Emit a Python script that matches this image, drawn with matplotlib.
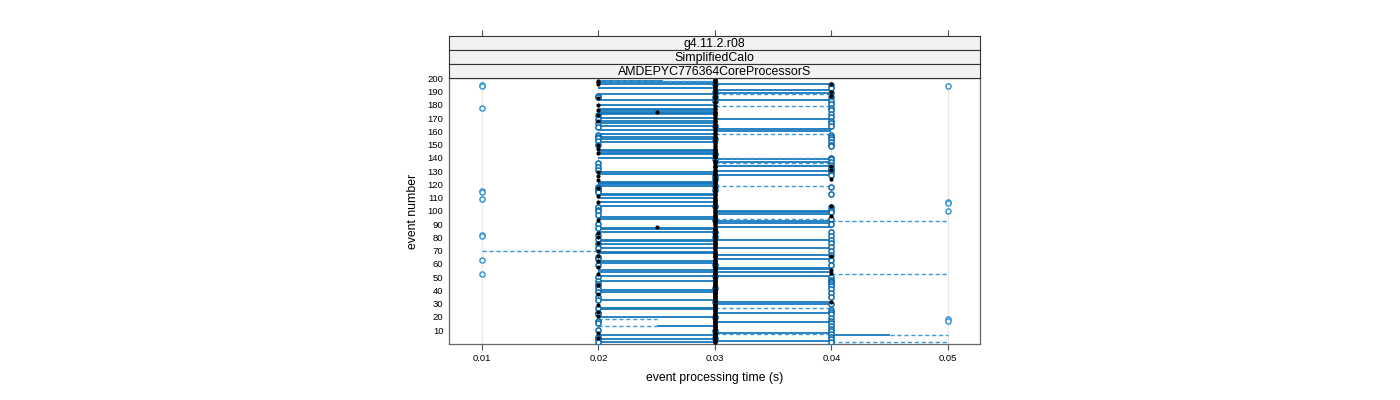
import matplotlib
matplotlib.use("Agg")
import matplotlib.pyplot as plt

plt.rcParams['font.family'] = ['Liberation Sans', 'DejaVu Sans']

# ---- data ----
strip_labels = ["g4.11.2.r08", "SimplifiedCalo", "AMDEPYC776364CoreProcessorS"]
x_ticks = [0.01, 0.02, 0.03, 0.04, 0.05]
x_ticklabels = ["0.01", "0.02", "0.03", "0.04", "0.05"]
y_ticks = [10, 20, 30, 40, 50, 60, 70, 80, 90, 100, 110, 120, 130, 140, 150, 160, 170, 180, 190, 200]

# solid segments 0.02 -> 0.03 (event numbers)
lo_solid_events = [197, 196, 193, 188, 184, 180, 177, 176, 175, 174, 173, 170, 168, 166, 164, 161,
                   158, 156, 154, 152, 146, 145, 144, 143, 140, 129, 128, 122, 121, 120, 119,
                   113, 112, 110, 107, 104, 95, 94, 87, 86, 84, 78, 77, 75, 72, 69, 68, 62, 61,
                   55, 54, 51, 47, 40, 39, 33, 27, 26, 20, 6, 3, 1]
# solid segments 0.03 -> 0.04
hi_solid_events = [196, 191, 189, 184, 169, 162, 160, 139, 137, 134, 130, 127, 100, 99, 98, 92,
                   91, 88, 78, 72, 67, 64, 57, 56, 54, 51, 31, 30, 23, 16, 8, 2]
# dashed segments: event, start, end
dash_event = [198, 188, 179, 158, 140, 136, 119, 94, 27, 7, 18, 13, 70, 92, 52, 6, 1]
dash_start = [0.02, 0.03, 0.03, 0.03, 0.03, 0.03, 0.03, 0.03, 0.03, 0.03, 0.02, 0.02, 0.01, 0.04, 0.04, 0.045, 0.04]
dash_end = [0.03, 0.04, 0.04, 0.04, 0.04, 0.04, 0.04, 0.04, 0.04, 0.04, 0.025, 0.025, 0.02, 0.05, 0.05, 0.05, 0.05]
# other solid segments: event, start, end
extra_event = [198, 13, 6]
extra_start = [0.02, 0.025, 0.04]
extra_end = [0.0255, 0.03, 0.045]

# open circles by time column
open_t01 = [195, 194, 178, 115, 114, 109, 82, 81, 63, 52]
open_t02 = [187, 186, 172, 169, 166, 163, 157, 156, 155, 153, 150, 136, 133, 131, 118, 117, 116,
            115, 114, 103, 101, 100, 97, 90, 87, 82, 79, 75, 72, 65, 64, 59, 50, 47, 45, 43,
            41, 39, 35, 33, 27, 23, 22, 17, 15, 10, 5, 3, 1]
open_t03 = [196, 190, 186, 183, 164, 154, 143, 139, 126, 124, 119, 116, 104, 93, 84, 80, 59,
            51, 42, 31, 20, 9, 4]
open_t04 = [195, 193, 189, 186, 183, 181, 178, 176, 173, 171, 168, 166, 164, 157, 156, 154, 152,
            150, 149, 140, 139, 137, 135, 132, 131, 129, 127, 118, 113, 103, 101, 99, 94, 90,
            84, 81, 78, 76, 73, 70, 67, 63, 59, 50, 48, 47, 46, 45, 43, 41, 38, 35, 30, 25,
            24, 22, 19, 17, 15, 13, 11, 9, 7, 5, 3, 1]
open_t05 = [194, 107, 106, 100, 18, 17]

# filled (black) points by time column, events
black_t02 = [198, 197, 196, 185, 180, 176, 172, 168, 150, 147, 144, 129, 126, 123, 117, 111,
             107, 93, 83, 80, 76, 70, 66, 62, 58, 52, 44, 37, 29, 24, 21, 8, 4]
black_t03 = [200, 199, 198, 197, 195, 194, 193, 191, 189, 187, 185, 182, 179, 177, 175, 174, 172, 170,
             168, 167, 165, 163, 161, 159, 158, 156, 155, 153, 151, 149, 147, 146, 145, 144,
             142, 141, 138, 136, 134, 133, 131, 129, 128, 127, 125, 123, 122, 121, 120, 118,
             117, 115, 113, 112, 110, 108, 107, 105, 103, 101, 99, 97, 96, 95, 94, 92, 91, 89,
             87, 86, 85, 83, 82, 81, 79, 77, 76, 75, 74, 73, 71, 69, 68, 67, 66, 65, 63, 62,
             61, 60, 58, 57, 56, 55, 53, 52, 50, 49, 48, 47, 46, 45, 44, 43, 41, 40, 39, 38,
             37, 36, 35, 34, 33, 32, 30, 29, 28, 27, 26, 25, 24, 22, 21, 19, 18, 17, 16, 15,
             14, 13, 12, 11, 10, 8, 7, 6, 5, 3, 2, 1]
black_t04 = [196, 190, 187, 134, 131, 124, 104, 96, 66, 55, 53, 31]
black_mid_t = [0.025, 0.025]
black_mid_e = [175, 88]

# ---- drawing ----
W, H = 1400, 400
fig = plt.figure(figsize=(14, 4), dpi=100)

def fx(px):
    return px / W

def fy(py):
    return 1 - py / H

L, R, T, B = 449, 980, 78, 344
ax = fig.add_axes([fx(L), fy(B), fx(R - L), fy(T) - fy(B)])
xlim = (0.00717, 0.05275)
ax.set_xlim(*xlim)
ax.set_ylim(-0.5, 200.3)

blue = '#1878bd'
dark = '#0b6aae'
light = '#3c98d6'

for xv in x_ticks:
    ax.axvline(xv, color='#e8e8e8', lw=0.9, zorder=0)

for e in lo_solid_events:
    ax.plot([0.02, 0.03], [e, e], color=blue, lw=1.3, zorder=2, solid_capstyle='butt')
for e in hi_solid_events:
    ax.plot([0.03, 0.04], [e, e], color=blue, lw=1.3, zorder=2, solid_capstyle='butt')
for e, s, t in zip(extra_event, extra_start, extra_end):
    ax.plot([s, t], [e, e], color=blue, lw=1.3, zorder=2, solid_capstyle='butt')
for e, s, t in zip(dash_event, dash_start, dash_end):
    ax.plot([s, t], [e, e], color=light, lw=1.0, ls=(0, (3, 2)), zorder=2)

ms = 3.7
def opens(t, evs, col=dark):
    ax.plot([t] * len(evs), evs, ls='none', marker='o', ms=ms, mfc='white', mec=col,
            mew=1.1, zorder=3)

opens(0.01, open_t01, light)
opens(0.02, open_t02)
opens(0.03, open_t03)
opens(0.04, open_t04)
opens(0.05, open_t05, light)

def blacks(ts, evs, size=3.0):
    ax.plot(ts, evs, ls='none', marker='o', ms=size, mfc='black', mec='black', mew=0, zorder=4)

blacks([0.02] * len(black_t02), black_t02)
blacks([0.03] * len(black_t03), black_t03, 3.3)
blacks([0.04] * len(black_t04), black_t04)
blacks(black_mid_t, black_mid_e)

ax.set_xticks(x_ticks)
ax.set_xticklabels(x_ticklabels)
ax.set_yticks(y_ticks)
ax.tick_params(axis='x', direction='out', length=4.5, width=0.8, color='#555555',
               labelsize=6.8, pad=3)
ax.tick_params(axis='y', length=0, labelsize=6.8, pad=4)
for sp in ax.spines.values():
    sp.set_color('#666666')
    sp.set_linewidth(0.9)
ax.set_xlabel("event processing time (s)", fontsize=8.8, labelpad=6)
ax.set_ylabel("event number", fontsize=8.8, labelpad=6)

# strips
edges = [35.5, 49.7, 63.9, 78]
for i, lab in enumerate(strip_labels):
    top, bot = edges[i], edges[i + 1]
    sax = fig.add_axes([fx(L), fy(bot), fx(R - L), fy(top) - fy(bot)])
    sax.set_facecolor('#f2f2f2')
    sax.set_xlim(*xlim)
    sax.set_ylim(0, 1)
    sax.set_yticks([])
    if i == 0:
        sax.set_xticks(x_ticks)
        sax.xaxis.set_ticks_position('top')
        sax.tick_params(axis='x', direction='out', length=4.5, width=0.8, color='#555555',
                        labeltop=False, labelbottom=False)
    else:
        sax.set_xticks([])
    for sp in sax.spines.values():
        sp.set_color('#333333')
        sp.set_linewidth(0.8)
    sax.text(0.5, 0.42, lab, transform=sax.transAxes, ha='center', va='center', fontsize=8.9)

fig.savefig("out.png", dpi=100)
